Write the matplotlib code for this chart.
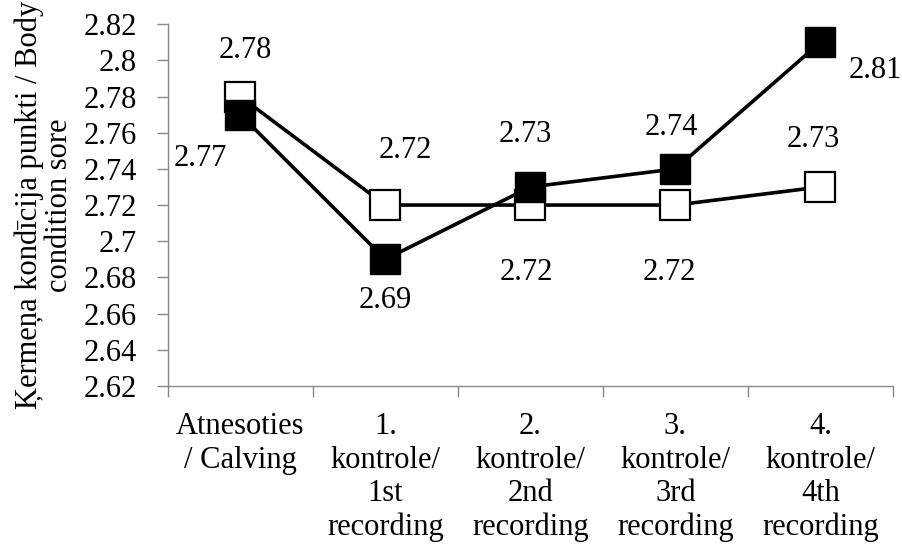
import numpy as np
import matplotlib.pyplot as plt

plt.rcParams['font.family'] = ['Liberation Serif', 'DejaVu Serif']

categories = ["Atnesoties\n/ Calving", "1.\nkontrole/\n1st\nrecording",
              "2.\nkontrole/\n2nd\nrecording", "3.\nkontrole/\n3rd\nrecording",
              "4.\nkontrole/\n4th\nrecording"]
filled_vals = [2.77, 2.69, 2.73, 2.74, 2.81]
open_vals = [2.78, 2.72, 2.72, 2.72, 2.73]
yticks = [2.62, 2.64, 2.66, 2.68, 2.70, 2.72, 2.74, 2.76, 2.78, 2.80, 2.82]
ytick_labels = ["2.62", "2.64", "2.66", "2.68", "2.7", "2.72", "2.74", "2.76", "2.78", "2.8", "2.82"]

# label offsets in pixels (dx, dy), y up
filled_off = [(-40, -44), (0, -41), (-5, 52), (-4, 41), (55, -28)]
open_off = [(5, 46), (20, 55), (-4, -67), (-6, -67), (-7, 47)]

fs = 22
fig = plt.figure(figsize=(9.02, 5.49), dpi=100)
ax = fig.add_axes([0.186, 0.297, 0.804, 0.659])

x = np.arange(len(categories))
ax.plot(x, open_vals, color="black", lw=2.6, marker="s", markersize=21,
        markerfacecolor="white", markeredgecolor="black", markeredgewidth=1.6, zorder=3)
ax.plot(x, filled_vals, color="black", lw=2.6, marker="s", markersize=21,
        markerfacecolor="black", markeredgecolor="black", zorder=4)

px = 0.72
for xi, v, (dx, dy) in zip(x, filled_vals, filled_off):
    ax.annotate(f"{v:.2f}", (xi, v), xytext=(dx * px, dy * px), textcoords="offset points",
                ha="center", va="center", fontsize=fs)
for xi, v, (dx, dy) in zip(x, open_vals, open_off):
    ax.annotate(f"{v:.2f}", (xi, v), xytext=(dx * px, dy * px), textcoords="offset points",
                ha="center", va="center", fontsize=fs)

ax.set_xlim(-0.5, len(categories) - 0.5)
ax.set_ylim(2.62, 2.82)
ax.set_yticks(yticks)
ax.set_yticklabels(ytick_labels, fontsize=fs)
ax.set_xticks(x)
ax.set_xticklabels(categories, fontsize=fs, linespacing=1.2, va="top")
ax.set_xticks(np.arange(len(categories) + 1) - 0.5, minor=True)
ax.tick_params(axis="x", which="major", length=0, pad=19)
ax.tick_params(axis="x", which="minor", length=8, color="#888888", width=1)
ax.tick_params(axis="y", length=8, color="#888888", width=1, pad=14)

for s in ["top", "right"]:
    ax.spines[s].set_visible(False)
for s in ["left", "bottom"]:
    ax.spines[s].set_color("#888888")
    ax.spines[s].set_linewidth(1)

ax.set_ylabel("Ķermeņa kondīcija punkti / Body\ncondition sore", fontsize=fs,
              linespacing=1.05, va="center")
ax.yaxis.set_label_coords(-0.17, 0.5)

fig.savefig("out.png", dpi=100)
